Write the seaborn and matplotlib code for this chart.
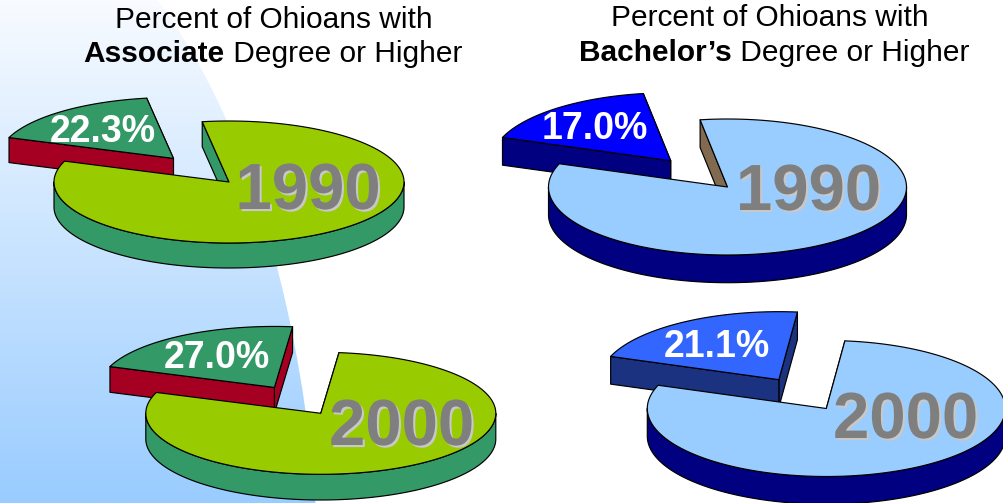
import numpy as np
import matplotlib
matplotlib.use("Agg")
import matplotlib.pyplot as plt
from matplotlib.patches import Ellipse
from matplotlib.colors import ListedColormap
import matplotlib.patheffects as pe
import seaborn as sns

# Data
panels = ["Associate", "Associate", "Bachelor's", "Bachelor's"]
years = ["1990", "2000", "1990", "2000"]
label_values = [22.3, 27.0, 17.0, 21.1]
drawn_shares = [17.0, 21.1, 17.0, 21.1]  # slice sizes as actually drawn, percent of the circle

# Colours
big_top = ["#99CC00", "#99CC00", "#99CCFF", "#99CCFF"]
big_side = ["#339966", "#339966", "#000080", "#000080"]
big_wall = ["#339966", "#339966", "#826A50", "#826A50"]
small_top = ["#339966", "#339966", "#0000FF", "#3366FF"]
small_side = ["#A50021", "#A50021", "#000080", "#1A327F"]

# Layout, in pixels of the 1004x503 picture
centers = [(229.0, 182.0), (320.8, 413.3), (727.5, 187.0), (826.3, 408.5)]
radii = [(175.0, 61.0), (175.0, 61.0), (179.0, 68.0), (179.0, 68.0)]
depths = [25.0, 25.7, 27.7, 27.7]
label_pos = [(103, 132), (217, 358), (595, 129), (716.5, 347)]
year_pos = [(308, 192), (401.5, 428), (808.5, 193), (905.5, 421)]
END_ANGLE = 160.0
EXPLODE = 0.5

sns.set_theme(style="white")
plt.rcParams["font.family"] = ["Liberation Sans", "DejaVu Sans"]

fig = plt.figure(figsize=(10.04, 5.03), dpi=100, facecolor="white")
ax = fig.add_axes([0, 0, 1, 1])
ax.set_xlim(0, 1004)
ax.set_ylim(503, 0)
ax.axis("off")

# Background: vertical gradient inside a large curved shape
grad = np.linspace(0, 1, 256).reshape(-1, 1)
cmap = ListedColormap(sns.blend_palette(["#F8FBFF", "#99CCFF"], 256))
img = ax.imshow(grad, cmap=cmap, extent=(0, 330, 503, 0), aspect="auto", zorder=0)
clip = Ellipse((-25, 620), 690, 1460, transform=ax.transData, facecolor="none", edgecolor="none")
ax.add_patch(clip)
img.set_clip_path(clip)
ax.set_xlim(0, 1004)
ax.set_ylim(503, 0)


def arc(cx, cy, rx, ry, a0, a1, n=160):
    t = np.radians(np.linspace(a0, a1, n))
    return np.c_[cx + rx * np.cos(t), cy - ry * np.sin(t)]


def poly(pts, color, z):
    ax.fill(pts[:, 0], pts[:, 1], facecolor=color, edgecolor="black", lw=0.85,
            joinstyle="round", zorder=z)


for i in range(4):
    cx, cy = centers[i]
    rx, ry = radii[i]
    d = depths[i]
    sweep = drawn_shares[i] * 3.6
    start = END_ANGLE - sweep
    mid = END_ANGLE - sweep / 2
    sx = cx + EXPLODE * rx * np.cos(np.radians(mid))
    sy = cy - EXPLODE * ry * np.sin(np.radians(mid))
    down = np.array([0, d])

    # exploded slice: two walls, then the top
    for ang in (start, END_ANGLE):
        p = arc(sx, sy, rx, ry, ang, ang, 1)[0]
        c = np.array([sx, sy])
        poly(np.array([c, p, p + down, c + down]), small_side[i], 2)
    top = np.vstack([[sx, sy], arc(sx, sy, rx, ry, start, END_ANGLE)])
    poly(top, small_top[i], 3)

    # main body: cut wall, rim, then the top
    p = arc(cx, cy, rx, ry, start, start, 1)[0]
    c = np.array([cx, cy])
    poly(np.array([c, p, p + down, c + down]), big_wall[i], 4)
    upper = arc(cx, cy, rx, ry, 180, 360)
    poly(np.vstack([upper, (upper + down)[::-1]]), big_side[i], 4)
    body = np.vstack([[cx, cy], arc(cx, cy, rx, ry, END_ANGLE, start + 360, 400)])
    poly(body, big_top[i], 5)

    # slice value
    ax.text(*label_pos[i], f"{label_values[i]:.1f}%", color="white", fontsize=27,
            fontweight="bold", ha="center", va="center", zorder=6)
    # year
    ax.text(*year_pos[i], years[i], color="#7F7F7F",
            fontsize=47, fontweight="bold", ha="center", va="center", zorder=7,
            path_effects=[pe.withSimplePatchShadow(offset=(1.5, -1.5), shadow_rgbFace="#C8C8C8", alpha=1.0)])

# Titles
TITLE_SIZE = 21.5
ax.text(273.5, 20, "Percent of Ohioans with", fontsize=TITLE_SIZE, ha="center", va="center", color="black", zorder=8)
ax.text(769.5, 18, "Percent of Ohioans with", fontsize=TITLE_SIZE, ha="center", va="center", color="black", zorder=8)


def mixed_title(xc, y, bold, rest):
    r = fig.canvas.get_renderer()
    a = ax.text(0, y, bold, fontsize=TITLE_SIZE, fontweight="bold", va="baseline", ha="left", color="black", zorder=8)
    b = ax.text(0, y, rest, fontsize=TITLE_SIZE, va="baseline", ha="left", color="black", zorder=8)
    wa = a.get_window_extent(r).width
    wb = b.get_window_extent(r).width
    x0 = xc - (wa + wb) / 2
    a.set_x(x0)
    b.set_x(x0 + wa)


mixed_title(273, 62, "Associate", "\u00a0Degree or Higher")
mixed_title(774.5, 61, "Bachelor\u2019s", "\u00a0Degree or Higher")

fig.savefig("out.png", dpi=100, facecolor="white")
